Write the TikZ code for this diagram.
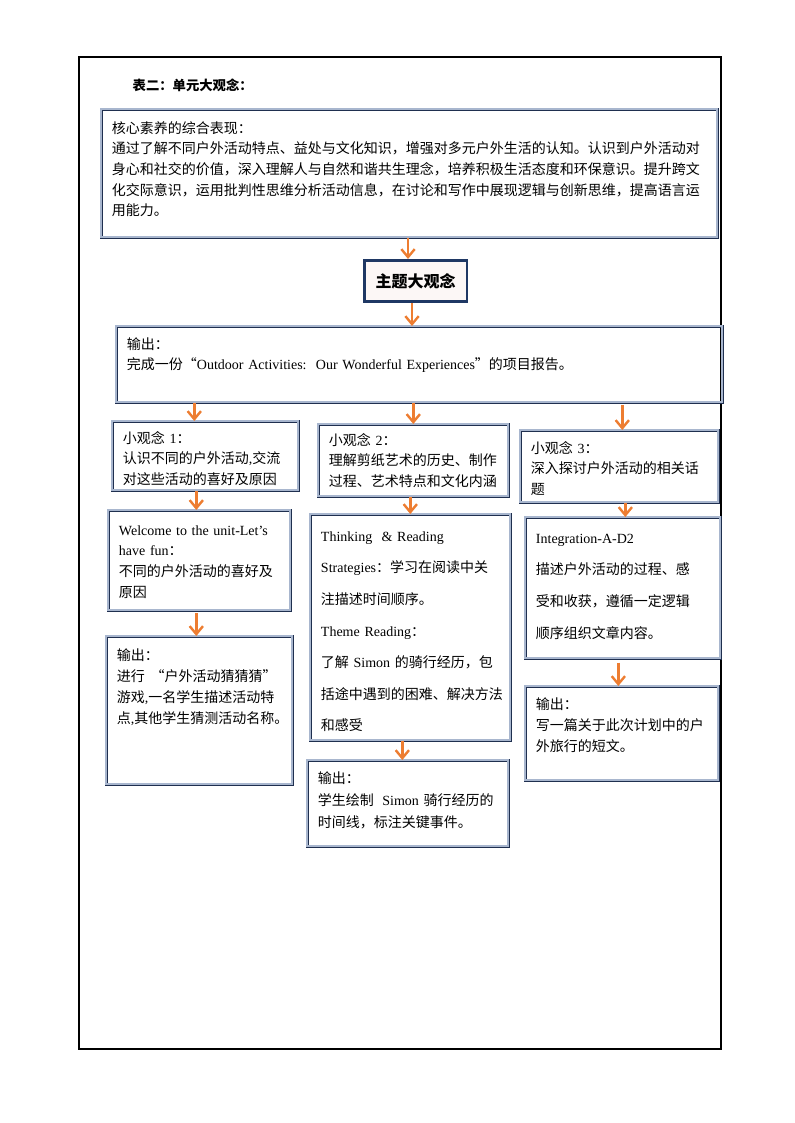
\documentclass[tikz,border=0pt]{standalone}
\usepackage{fontspec}
\setmainfont{Liberation Serif}
\newfontfamily\cjk{Noto Sans CJK SC}
\usepackage{tikz}
\usetikzlibrary{
  positioning,
  arrows.meta
}
\definecolor{boxline}{HTML}{1F2F4F}
\definecolor{boxband}{HTML}{A8B6CE}
\definecolor{flowcol}{HTML}{ED7D31}
\definecolor{themeline}{HTML}{1F3864}
\definecolor{themefill}{HTML}{FCF7F6}
\newcommand{\lat}[1]{{\rmfamily #1}}
\tikzstyle{frame}=[black, line width=0.8pt]
\tikzstyle{box}=[draw=boxline, double=boxband, double distance=1.4pt, line width=0.45pt,
  anchor=north west, align=left, inner xsep=8pt, inner ysep=0pt,
  font=\cjk\fontsize{10.5}{15.5}\selectfont]
\tikzstyle{widebox}=[box, font=\cjk\fontsize{10.5}{23.7}\selectfont]
\tikzstyle{themebox}=[draw=themeline, line width=2pt, fill=themefill,
  minimum width=77pt, minimum height=31pt, inner sep=0pt,
  font=\cjk\bfseries\fontsize{12}{14}\selectfont]
\tikzstyle{flow}=[flowcol, line width=1.8pt, -{Straight Barb[length=6pt,width=10pt]}]

\begin{document}
\begin{tikzpicture}[x=0.75pt,y=-0.75pt]
    \useasboundingbox (0,0) rectangle (794,1123);

    % 外枠
    \draw[frame] (79,57) rectangle (721,1049);
    \node[anchor=west, font=\cjk\bfseries\fontsize{10}{12}\selectfont] (title) at (128,85) {表二：单元大观念：};

    % TOP
    \node[box, text width=446pt, text height=18pt, text depth=78pt] (core) at (101,109) {核心素养的综合表现：\\
      通过了解不同户外活动特点、益处与文化知识，增强对多元户外生活的认知。认识到户外活动对\\
      身心和社交的价值，深入理解人与自然和谐共生理念，培养积极生活态度和环保意识。提升跨文\\
      化交际意识，运用批判性思维分析活动信息，在讨论和写作中展现逻辑与创新思维，提高语言运\\
      用能力。};
    \node[themebox] (theme) at (415.5,281) {主题大观念};
    \node[box, text width=438.5pt, text height=17.25pt, text depth=39.75pt] (out) at (116,326) {输出：\\
      完成一份“\lat{Outdoor Activities:\ \ Our Wonderful Experiences}”的项目报告。};

    % 小观念
    \node[box, text width=123.5pt, text height=16.5pt, text depth=35.25pt] (s1) at (112,421) {小观念 \lat{1}：\\
      认识不同的户外活动\lat{,}交流\\ 对这些活动的喜好及原因};
    \node[box, text width=126.5pt, text height=15.75pt, text depth=38.25pt] (s2) at (318,424) {小观念 \lat{2}：\\
      理解剪纸艺术的历史、制作\\ 过程、艺术特点和文化内涵};
    \node[box, text width=132.5pt, text height=17.25pt, text depth=36.75pt] (s3) at (520,430) {小观念 \lat{3}：\\
      深入探讨户外活动的相关话\\ 题};

    % 教材
    \node[box, text width=120.5pt, text height=18.75pt, text depth=56.25pt] (welcome) at (108,510) {\lat{Welcome to the unit-Let’s}\\
      \lat{have fun}：\\ 不同的户外活动的喜好及\\ 原因};
    \node[widebox, text width=134pt, text height=20.25pt, text depth=149.25pt] (think) at (310,514) {\lat{Thinking\ \ \& Reading}\\
      \lat{Strategies}：学习在阅读中关\\ 注描述时间顺序。\\
      \lat{Theme Reading}：\\ 了解 \lat{Simon} 的骑行经历，包\\
      括途中遇到的困难、解决方法\\ 和感受};
    \node[widebox, text width=130.25pt, text height=19.5pt, text depth=86.25pt] (integ) at (525,517) {\lat{Integration-A-D2}\\
      描述户外活动的过程、感\\ 受和收获，遵循一定逻辑\\ 顺序组织文章内容。};

    % 输出
    \node[box, text width=123.5pt, text height=18pt, text depth=93pt, font=\cjk\fontsize{10.5}{15.75}\selectfont] (o1) at (106,636) {输出：\\
      进行\kern0.4em“户外活动猜猜猜”\\ 游戏\lat{,}一名学生描述活动特\\ 点\lat{,}其他学生猜测活动名称。};
    \node[box, text width=134.75pt, text height=17.25pt, text depth=47.25pt, font=\cjk\fontsize{10.5}{16.5}\selectfont] (o2) at (307,760) {输出：\\
      学生绘制\kern0.6em\lat{Simon} 骑行经历的\\ 时间线，标注关键事件。};
    \node[box, text width=128.75pt, text height=17.25pt, text depth=53.25pt, font=\cjk\fontsize{10.5}{16}\selectfont] (o3) at (525,686) {输出：\\
      写一篇关于此次计划中的户\\ 外旅行的短文。};

    % ARROWS
    \draw[flow] ([xshift=-5.6pt]theme.north |- core.south) -- ([xshift=-5.6pt]theme.north);
    \draw[flow] ([xshift=-2.6pt]theme.south) -- ([xshift=-2.6pt]theme.south |- out.north);
    \draw[flow] ([xshift=-8.25pt]s1.north |- out.south) -- ([xshift=-8.25pt]s1.north);
    \draw[flow] (s2.north |- out.south) -- (s2.north);
    \draw[flow] ([xshift=2.25pt,yshift=-2pt]s3.north |- out.south) -- ([xshift=2.25pt]s3.north);
    \draw[flow] ([xshift=-2.25pt]welcome.north |- s1.south) -- ([xshift=-2.25pt]welcome.north);
    \draw[flow] (think.north |- s2.south) -- (think.north);
    \draw[flow] ([xshift=1.9pt]integ.north |- s3.south) -- ([xshift=1.9pt]integ.north);
    \draw[flow] ([xshift=-2.25pt,yshift=-2pt]o1.north |- welcome.south) -- ([xshift=-2.25pt]o1.north);
    \draw[flow] ([xshift=-4.1pt]o2.north |- think.south) -- ([xshift=-4.1pt]o2.north);
    \draw[flow] ([xshift=-2.6pt,yshift=-3pt]o3.north |- integ.south) -- ([xshift=-2.6pt]o3.north);
\end{tikzpicture}
\end{document}
